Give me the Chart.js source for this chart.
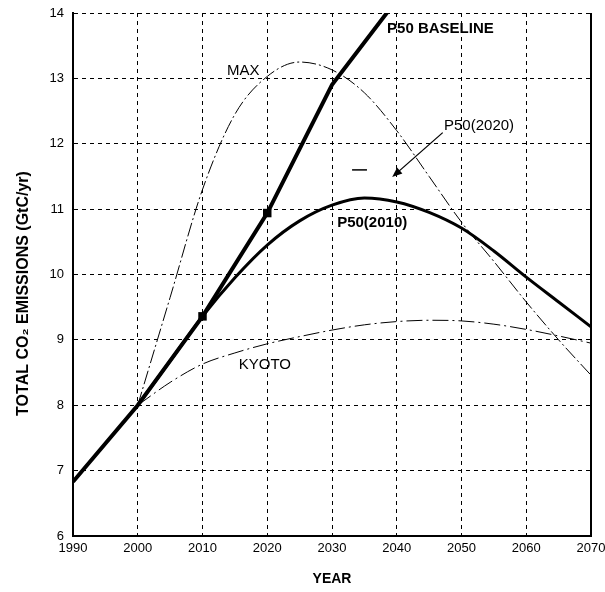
<!DOCTYPE html>
<html lang="en">
<head>
    <meta charset="UTF-8">
    <title>Total CO2 emissions</title>
    <style>
        html, body { margin: 0; padding: 0; background: #fff; overflow: hidden; }
        #wrap { width: 605px; height: 592px; }
    </style>
</head>
<body>
    <div id="wrap"><canvas id="co2_chart"></canvas></div>
</body>
<script src="https://cdn.jsdelivr.net/npm/chart.js@4.4.0/dist/chart.umd.min.js"></script>
<script>
    // values (GtC/yr)
    const xTicks = [1990, 2000, 2010, 2020, 2030, 2040, 2050, 2060, 2070];
    const yTicks = [6, 7, 8, 9, 10, 11, 12, 13, 14];

    const baselineYears = [1990, 2000, 2010, 2020, 2030, 2040];
    const baselineValues = [6.83, 8.0, 9.36, 10.94, 12.9, 14.2];
    const baselineMarkers = [2010, 2020];

    const curveYears = [2000, 2005, 2010, 2015, 2020, 2025, 2030, 2035, 2040, 2045, 2050, 2055, 2060, 2065, 2070];
    const p50_2010Values = [8.0, 8.68, 9.36, 9.95, 10.45, 10.82, 11.06, 11.17, 11.11, 10.95, 10.71, 10.36, 9.96, 9.58, 9.2];
    const maxValues = [8.0, 9.65, 11.3, 12.45, 13.03, 13.25, 13.13, 12.78, 12.2, 11.5, 10.8, 10.2, 9.58, 9.0, 8.46];
    const kyotoValues = [8.0, 8.35, 8.63, 8.8, 8.94, 9.05, 9.15, 9.23, 9.28, 9.3, 9.29, 9.24, 9.16, 9.06, 8.95];

    const toPoints = (xs, ys) => xs.map((x, i) => ({x: x, y: ys[i]}));

    // labels written on the plot, placed in data units
    const notes = [
        {text: 'P50 BASELINE', year: 2038.5, value: 13.76, bold: true},
        {text: 'MAX', year: 2013.8, value: 13.11, bold: false},
        {text: 'P50(2020)', year: 2047.3, value: 12.28, bold: false},
        {text: 'P50(2010)', year: 2030.8, value: 10.79, bold: true},
        {text: 'KYOTO', year: 2015.6, value: 8.62, bold: false}
    ];
    const arrow = {from: [2047.1, 12.17], to: [2039.3, 11.49]};
    const dash = {from: [2033.1, 11.6], to: [2035.4, 11.6]};

    const FONT = "'Liberation Sans', Arial, sans-serif";
    Chart.defaults.font.family = FONT;
    Chart.defaults.color = '#000';

    const notesPlugin = {
        id: 'notes',
        afterDatasetsDraw(chart) {
            const {ctx, chartArea, scales: {x, y}} = chart;
            ctx.save();
            ctx.strokeStyle = '#000';
            ctx.fillStyle = '#000';

            // right frame line
            ctx.lineWidth = 2;
            ctx.beginPath();
            ctx.moveTo(chartArea.right, chartArea.top);
            ctx.lineTo(chartArea.right, chartArea.bottom);
            ctx.stroke();

            ctx.textBaseline = 'middle';
            ctx.textAlign = 'left';
            notes.forEach(n => {
                ctx.font = (n.bold ? 'bold ' : '') + '15px ' + FONT;
                ctx.fillText(n.text, x.getPixelForValue(n.year), y.getPixelForValue(n.value));
            });

            // arrow to P50(2020)
            const ax1 = x.getPixelForValue(arrow.from[0]), ay1 = y.getPixelForValue(arrow.from[1]);
            const ax2 = x.getPixelForValue(arrow.to[0]), ay2 = y.getPixelForValue(arrow.to[1]);
            const ang = Math.atan2(ay2 - ay1, ax2 - ax1);
            ctx.lineWidth = 1.3;
            ctx.beginPath();
            ctx.moveTo(ax1, ay1);
            ctx.lineTo(ax2 - 6 * Math.cos(ang), ay2 - 6 * Math.sin(ang));
            ctx.stroke();
            ctx.beginPath();
            ctx.moveTo(ax2, ay2);
            ctx.lineTo(ax2 - 10 * Math.cos(ang) + 4 * Math.sin(ang), ay2 - 10 * Math.sin(ang) - 4 * Math.cos(ang));
            ctx.lineTo(ax2 - 10 * Math.cos(ang) - 4 * Math.sin(ang), ay2 - 10 * Math.sin(ang) + 4 * Math.cos(ang));
            ctx.closePath();
            ctx.fill();

            ctx.lineWidth = 1.5;
            ctx.beginPath();
            ctx.moveTo(x.getPixelForValue(dash.from[0]), y.getPixelForValue(dash.from[1]));
            ctx.lineTo(x.getPixelForValue(dash.to[0]), y.getPixelForValue(dash.to[1]));
            ctx.stroke();
            ctx.restore();
        },
        afterDraw(chart) {
            // y axis title, sits a bit below the middle of the plot
            const {ctx, chartArea} = chart;
            ctx.save();
            ctx.translate(24, (chartArea.top + chartArea.bottom) / 2 + 19);
            ctx.rotate(-Math.PI / 2);
            ctx.font = 'bold 16px ' + FONT;
            ctx.fillStyle = '#000';
            ctx.textAlign = 'center';
            ctx.textBaseline = 'middle';
            ctx.fillText('TOTAL CO\u2082 EMISSIONS (GtC/yr)', 0, 0);
            ctx.restore();
        }
    };

    const ctx = document.getElementById('co2_chart').getContext('2d');

    new Chart(ctx, {
        type: 'line',
        data: {
            datasets: [
                {
                    label: 'P50 BASELINE',
                    data: toPoints(baselineYears, baselineValues),
                    borderColor: '#000',
                    backgroundColor: '#000',
                    borderWidth: 4,
                    tension: 0,
                    pointStyle: 'rect',
                    pointBorderWidth: 0,
                    pointRadius: c => baselineMarkers.includes(baselineYears[c.dataIndex]) ? 6 : 0
                },
                {
                    label: 'P50(2010)',
                    data: toPoints(curveYears, p50_2010Values),
                    borderColor: '#000',
                    borderWidth: 3,
                    cubicInterpolationMode: 'monotone',
                    pointRadius: 0
                },
                {
                    label: 'MAX',
                    data: toPoints(curveYears, maxValues),
                    borderColor: '#000',
                    borderWidth: 1,
                    borderDash: [14, 3, 2, 3],
                    cubicInterpolationMode: 'monotone',
                    pointRadius: 0
                },
                {
                    label: 'KYOTO',
                    data: toPoints(curveYears, kyotoValues),
                    borderColor: '#000',
                    borderWidth: 1,
                    borderDash: [16, 4, 2, 4],
                    cubicInterpolationMode: 'monotone',
                    pointRadius: 0
                }
            ]
        },
        options: {
            responsive: true,
            maintainAspectRatio: false,
            animation: false,
            layout: {autoPadding: false, padding: {left: 0, right: 14, top: 13, bottom: 0}},
            plugins: {legend: {display: false}, tooltip: {enabled: false}},
            scales: {
                x: {
                    type: 'linear',
                    min: 1990,
                    max: 2070,
                    afterBuildTicks: axis => { axis.ticks = xTicks.map(v => ({value: v})); },
                    afterFit: axis => {
                        axis.height = 56;
                        axis.paddingLeft = 0;
                        axis.paddingRight = 0;
                    },
                    ticks: {
                        callback: v => String(v),
                        font: {size: 13},
                        padding: 5,
                        maxRotation: 0
                    },
                    grid: {color: '#000', lineWidth: 1, drawTicks: false},
                    border: {color: '#000', width: 2, dash: [4, 4]},
                    title: {display: true, text: 'YEAR', font: {size: 14, weight: 'bold'}, padding: {bottom: 4}}
                },
                y: {
                    min: 6,
                    max: 14,
                    afterBuildTicks: axis => { axis.ticks = yTicks.map(v => ({value: v})); },
                    afterFit: axis => {
                        axis.width = 73;
                        axis.paddingTop = 0;
                        axis.paddingBottom = 0;
                    },
                    ticks: {font: {size: 13}, padding: 9},
                    grid: {color: '#000', lineWidth: 1, drawTicks: false},
                    border: {color: '#000', width: 2, dash: [4, 4]}
                }
            }
        },
        plugins: [notesPlugin]
    });
</script>
</html>
